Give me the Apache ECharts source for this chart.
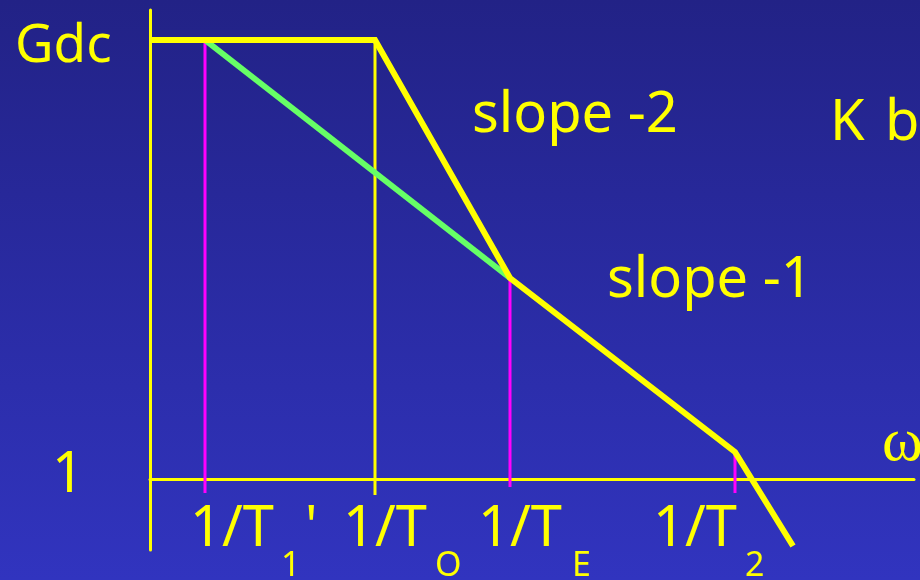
<!DOCTYPE html>
<html>
<head>
<meta charset="utf-8">
<script src="https://cdn.jsdelivr.net/npm/echarts@6/dist/echarts.min.js"></script>
<style>
  html, body { margin: 0; padding: 0; }
  #chart { width: 920px; height: 580px; }
</style>
</head>
<body>
<div id="chart"></div>
<script>
// corner frequencies on a log-omega axis (1 unit = one step of the sketch)
const cornerNames = ['1/T1\'', '1/To', '1/TE', '1/T2']
const cornerX = [0.55, 2.25, 3.6, 5.85]
// uncompensated asymptote (yellow): Gdc, corner at 1/To, slope -2, slope -1, then down again
const bodeX = [0, 2.25, 3.6, 5.85, 6.43]
const bodeY = [4.39, 4.39, 2.01, 0.27, -0.67]
// compensated asymptote (green) from 1/T1' to 1/TE
const compX = [0.55, 3.6]
const compY = [4.39, 2.01]
// ends of the drop lines under each corner
const dropTop = [4.39, 4.39, 2.01, 0.26]
const dropBottom = [-0.14, -0.16, -0.08, -0.14]

const YELLOW = '#ffff00'
const GREEN = '#66ff66'
const MAGENTA = '#ff00ff'
const FONT = '"Comic Sans MS", "Noto Sans", sans-serif'

const chart = echarts.init(document.getElementById('chart'))

const zip = (xs, ys) => xs.map((x, i) => [x, ys[i]])

function dropLine(i, color) {
  return {
    type: 'line',
    data: [[cornerX[i], dropTop[i]], [cornerX[i], dropBottom[i]]],
    symbol: 'none',
    clip: false,
    silent: true,
    lineStyle: { color: color, width: 3 },
    z: 2
  }
}

const option = {
  animation: false,
  backgroundColor: new echarts.graphic.LinearGradient(0, 0, 0, 1, [
    { offset: 0, color: '#222286' },
    { offset: 1, color: '#3134bf' }
  ]),
  grid: { left: 150, top: 10, width: 764, height: 540 },
  xAxis: {
    type: 'value',
    min: 0,
    max: 7.64,
    axisLine: { onZero: true, lineStyle: { color: YELLOW, width: 3 } },
    axisTick: { show: false },
    axisLabel: { show: false },
    splitLine: { show: false }
  },
  yAxis: {
    type: 'value',
    min: -0.71,
    max: 4.69,
    axisLine: { show: true, onZero: true, lineStyle: { color: YELLOW, width: 3 } },
    axisTick: { show: false },
    axisLabel: { show: false },
    splitLine: { show: false }
  },
  series: [
    dropLine(0, MAGENTA),
    dropLine(1, YELLOW),
    dropLine(2, MAGENTA),
    dropLine(3, MAGENTA),
    {
      type: 'line',
      data: zip(compX, compY),
      symbol: 'none',
      clip: false,
      lineStyle: { color: GREEN, width: 6 },
      z: 3
    },
    {
      type: 'line',
      data: zip(bodeX, bodeY),
      symbol: 'none',
      clip: false,
      lineStyle: { color: YELLOW, width: 6, join: 'miter' },
      z: 4
    }
  ]
}
chart.setOption(option)

function txt(text, x, y, size, font) {
  return {
    type: 'text',
    x: x,
    y: y,
    z: 10,
    style: {
      text: text,
      fill: YELLOW,
      font: size + 'px ' + (font || FONT),
      verticalAlign: 'middle',
      align: 'left'
    }
  }
}

const big = 56
const sub = 34
const labelY = 530
const subY = 566
const subs = ['1', 'O', 'E', '2']
const mainLeft = [190, 343, 478, 653]
const subLeft = [281, 435, 572, 745]

const graphics = [
  txt('Gdc', 15, 47, 53),
  txt('1', 52, 476, big),
  txt('slope -2', 472, 116, big),
  txt('slope -1', 607, 281, big),
  txt('K', 830, 124, big),
  txt('b', 885, 124, big),
  txt('\u03c9', 882, 444, 62, '"Liberation Serif", "DejaVu Serif", serif'),
  txt('\'', 305, labelY, big)
]
cornerNames.forEach((name, i) => {
  graphics.push(txt('1/T', mainLeft[i], labelY, big))
  graphics.push(txt(subs[i], subLeft[i], subY, sub))
})
chart.setOption({ graphic: { elements: graphics } })
</script>
</body>
</html>
